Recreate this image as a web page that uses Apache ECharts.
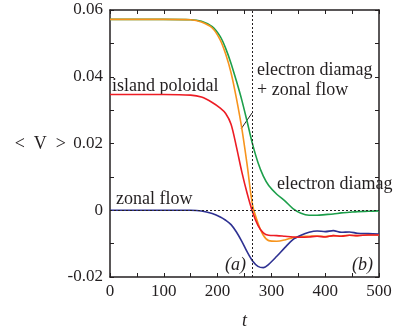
<!DOCTYPE html>
<html>
<head>
<meta charset="utf-8">
<script src="https://cdn.jsdelivr.net/npm/echarts@6/dist/echarts.min.js"></script>
<style>
  html, body { margin: 0; padding: 0; background: #fff; }
  #chart { width: 412px; height: 335px; }
</style>
</head>
<body>
<div id="chart"></div>
<script>
// time samples (t) shared by all curves
const times = [0, 50, 100, 150, 170, 190, 205, 215, 225, 235, 245, 255, 265, 275, 285, 295, 310, 325, 340, 355, 370, 385, 400, 415, 430, 445, 460, 480, 500];

// <V>
const electronDiamag = [0.0572, 0.0572, 0.0572, 0.0571, 0.0566, 0.0550, 0.0520, 0.0485, 0.0440, 0.0387, 0.0330, 0.0265, 0.0198, 0.0143, 0.0102, 0.0074, 0.0048, 0.0028, 0.0005, -0.0009, -0.0015, -0.0015, -0.0013, -0.0011, -0.0008, -0.0006, -0.0004, -0.0003, -0.0002];
const diamagPlusZonal = [0.0572, 0.0572, 0.0572, 0.0571, 0.0564, 0.0546, 0.0510, 0.0468, 0.0412, 0.0335, 0.0245, 0.0135, 0.0015, -0.0038, -0.0075, -0.0091, -0.0093, -0.0089, -0.0082, -0.0079, -0.0078, -0.0077, -0.0079, -0.0076, -0.0077, -0.0075, -0.0076, -0.0074, -0.0074];
const islandPoloidal = [0.0347, 0.0347, 0.0347, 0.0345, 0.0339, 0.0323, 0.0306, 0.0290, 0.0258, 0.0190, 0.0115, 0.0050, -0.0005, -0.0045, -0.0068, -0.0075, -0.0076, -0.0078, -0.0080, -0.0081, -0.0080, -0.0078, -0.0080, -0.0076, -0.0078, -0.0075, -0.0076, -0.0074, -0.0074];
const zonalFlow = [0, 0, 0, 0, -0.0002, -0.0010, -0.0020, -0.0030, -0.0043, -0.0065, -0.0093, -0.0125, -0.0152, -0.0168, -0.0172, -0.0162, -0.0138, -0.0112, -0.0088, -0.0075, -0.0066, -0.0062, -0.0064, -0.0061, -0.0066, -0.0065, -0.0069, -0.0070, -0.0071];

const markerT = 265;

const FONT = "'Liberation Serif', 'Times New Roman', serif";
const INK = '#231f20';

const pairs = vals => times.map((t, i) => [t, vals[i]]);

const chart = echarts.init(document.getElementById('chart'));

const axisBase = {
  axisLine: { show: true, onZero: false, lineStyle: { color: INK, width: 1.5 } },
  axisTick: { show: true, inside: true, length: 4, lineStyle: { color: INK, width: 1 } },
  splitLine: { show: false }
};

function line(name, vals, color, extra) {
  return Object.assign({
    name,
    type: 'line',
    data: pairs(vals),
    smooth: 0.3,
    showSymbol: false,
    lineStyle: { color, width: 1.6 },
    itemStyle: { color },
    z: 3
  }, extra || {});
}

const label = (text, x, y, italic) => ({
  type: 'text', x, y,
  style: { text, font: (italic ? 'italic ' : '') + '18px ' + FONT, fill: INK, verticalAlign: 'middle' }
});

const option = {
  animation: false,
  backgroundColor: '#fff',
  grid: { left: 110, right: 33, top: 10, bottom: 57 },
  xAxis: [
    Object.assign({}, axisBase, {
      type: 'value', min: 0, max: 500, interval: 50,
      axisLabel: {
        color: INK, fontFamily: FONT, fontSize: 17, margin: 6,
        formatter: v => (v % 100 === 0 ? String(v) : '')
      },
      name: 't', nameLocation: 'middle', nameGap: 35,
      nameTextStyle: { color: INK, fontFamily: FONT, fontSize: 18, fontStyle: 'italic' }
    }),
    Object.assign({}, axisBase, {
      type: 'value', min: 0, max: 500, interval: 50, position: 'top',
      axisLabel: { show: false }
    })
  ],
  yAxis: [
    Object.assign({}, axisBase, {
      type: 'value', min: -0.02, max: 0.06, interval: 0.01,
      axisLabel: {
        color: INK, fontFamily: FONT, fontSize: 17, margin: 7,
        formatter: v => {
          const k = Math.round(v * 100);
          if (k % 2 !== 0) return '';
          return k === 0 ? '0' : (k / 100).toFixed(2);
        }
      }
    }),
    Object.assign({}, axisBase, {
      type: 'value', min: -0.02, max: 0.06, interval: 0.01, position: 'right',
      axisLabel: { show: false }
    })
  ],
  series: [
    line('electron diamag', electronDiamag, '#1d9f4b'),
    line('electron diamag + zonal flow', diamagPlusZonal, '#f7941d'),
    line('zonal flow', zonalFlow, '#2e3192'),
    line('island poloidal', islandPoloidal, '#ed1c24', {
      markLine: {
        silent: true,
        symbol: 'none',
        label: { show: false },
        lineStyle: { color: INK, type: [2, 2], width: 1 },
        data: [{ xAxis: markerT }, { yAxis: 0 }]
      }
    })
  ],
  graphic: [
    { type: 'text', x: 66, y: 144, style: { text: '<  V  >', font: '18px ' + FONT, fill: INK, align: 'right', verticalAlign: 'middle' } },
    label('island poloidal', 112, 86),
    label('electron diamag', 257, 70),
    label('+ zonal flow', 257, 90),
    label('electron diamag', 277, 184),
    label('zonal flow', 116, 199),
    label('(a)', 225, 265, true),
    label('(b)', 352, 265, true),
    { type: 'line', shape: { x1: 252, y1: 113, x2: 241, y2: 129 }, style: { stroke: INK, lineWidth: 1 } }
  ]
};

chart.setOption(option);
</script>
</body>
</html>
